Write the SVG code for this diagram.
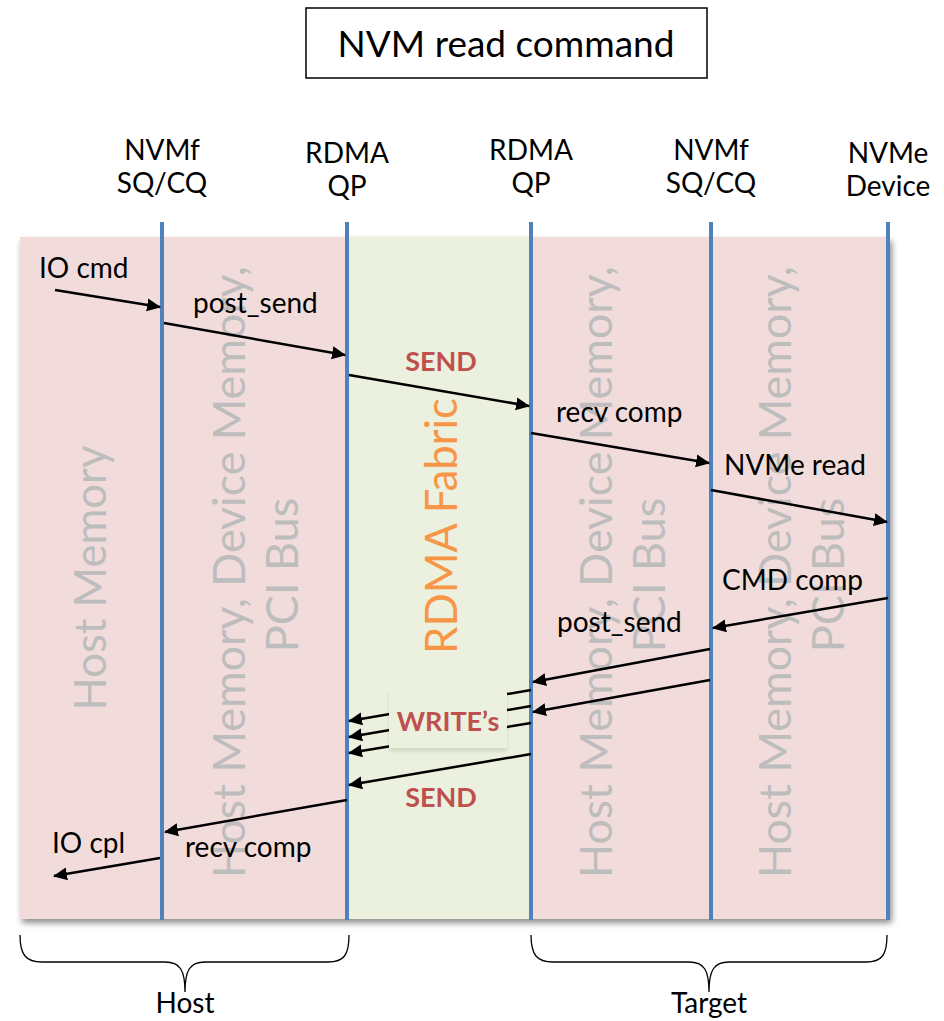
<svg xmlns="http://www.w3.org/2000/svg" width="944" height="1021" viewBox="0 0 944 1021">
  <style>
    .lbl { font-family: Lato, "Liberation Sans", sans-serif; font-size: 28px; fill: #000; }
    .hdr { font-family: Lato, "Liberation Sans", sans-serif; font-size: 28px; fill: #000; text-anchor: middle; }
    .red { font-family: Lato, "Liberation Sans", sans-serif; font-size: 27px; font-weight: bold; fill: #c0504d; text-anchor: middle; }
    .zone { font-family: Lato, "Liberation Sans", sans-serif; font-size: 45px; fill: #bdbdbd; text-anchor: middle; }
    .fabric { font-family: Lato, "Liberation Sans", sans-serif; font-size: 45px; fill: #f79646; text-anchor: middle; }
    .life { stroke: #4f81bd; stroke-width: 4; }
    .msg { stroke: #000; stroke-width: 2.5; fill: none; marker-end: url(#head); }
    .brace { stroke: #000; stroke-width: 1.3; fill: none; }
  </style>
  <defs>
    <marker id="head" viewBox="0 0 14 14" refX="13" refY="7" markerWidth="14" markerHeight="14" markerUnits="userSpaceOnUse" orient="auto">
      <path d="M0,0.5 L14,7 L0,13.5 Z" fill="#000"/>
    </marker>
    <filter id="shadow" x="-5%" y="-5%" width="110%" height="110%">
      <feGaussianBlur in="SourceAlpha" stdDeviation="3"/>
      <feOffset dx="2" dy="4"/>
      <feComponentTransfer><feFuncA type="linear" slope="0.45"/></feComponentTransfer>
      <feMerge><feMergeNode/><feMergeNode in="SourceGraphic"/></feMerge>
    </filter>
    <filter id="soft" x="-10%" y="-10%" width="120%" height="130%">
      <feGaussianBlur in="SourceAlpha" stdDeviation="2"/>
      <feOffset dx="0" dy="3"/>
      <feComponentTransfer><feFuncA type="linear" slope="0.12"/></feComponentTransfer>
      <feMerge><feMergeNode/><feMergeNode in="SourceGraphic"/></feMerge>
    </filter>
  </defs>

  <!-- title -->
  <g id="title">
    <rect x="306" y="8" width="401" height="70" fill="#fff" stroke="#000" stroke-width="1.5"/>
    <text x="506" y="57" font-family="Lato, 'Liberation Sans', sans-serif" font-size="37" text-anchor="middle">NVM read command</text>
  </g>

  <!-- background bands -->
  <g id="bands" filter="url(#shadow)">
    <rect x="20" y="237" width="327" height="682" fill="#f2dcdb"/>
    <rect x="347" y="237" width="184" height="682" fill="#ebf1de"/>
    <rect x="531" y="237" width="359" height="682" fill="#f2dcdb"/>
  </g>

  <!-- zone labels -->
  <g id="zones">
    <text class="zone" transform="translate(106,578) rotate(-90)" textLength="265" lengthAdjust="spacingAndGlyphs">Host Memory</text>
    <text class="zone" transform="translate(245,572) rotate(-90)" textLength="612" lengthAdjust="spacingAndGlyphs">Host Memory, Device Memory,</text>
    <text class="zone" transform="translate(298,575) rotate(-90)">PCI Bus</text>
    <text class="fabric" transform="translate(457,526) rotate(-90)" textLength="256" lengthAdjust="spacingAndGlyphs">RDMA Fabric</text>
    <text class="zone" transform="translate(612,572) rotate(-90)" textLength="612" lengthAdjust="spacingAndGlyphs">Host Memory, Device Memory,</text>
    <text class="zone" transform="translate(665,575) rotate(-90)">PCI Bus</text>
    <text class="zone" transform="translate(791,572) rotate(-90)" textLength="612" lengthAdjust="spacingAndGlyphs">Host Memory, Device Memory,</text>
    <text class="zone" transform="translate(844,575) rotate(-90)">PCI Bus</text>
  </g>

  <!-- participants -->
  <g id="host-sqcq">
    <text class="hdr" x="162" y="160">NVMf</text>
    <text class="hdr" x="162" y="193">SQ/CQ</text>
    <line class="life" x1="162" y1="222" x2="162" y2="920"/>
  </g>
  <g id="host-qp">
    <text class="hdr" x="347" y="163">RDMA</text>
    <text class="hdr" x="347" y="196">QP</text>
    <line class="life" x1="347" y1="222" x2="347" y2="920"/>
  </g>
  <g id="target-qp">
    <text class="hdr" x="531" y="160">RDMA</text>
    <text class="hdr" x="531" y="193">QP</text>
    <line class="life" x1="531" y1="222" x2="531" y2="920"/>
  </g>
  <g id="target-sqcq">
    <text class="hdr" x="711" y="160">NVMf</text>
    <text class="hdr" x="711" y="193">SQ/CQ</text>
    <line class="life" x1="711" y1="222" x2="711" y2="920"/>
  </g>
  <g id="nvme-device">
    <text class="hdr" x="888" y="163">NVMe</text>
    <text class="hdr" x="888" y="196">Device</text>
    <line class="life" x1="888" y1="222" x2="888" y2="920"/>
  </g>

  <!-- messages -->
  <g id="connectors">
    <line class="msg" x1="55" y1="290" x2="160" y2="307"/>
    <line class="msg" x1="164" y1="323" x2="345" y2="355"/>
    <line class="msg" x1="349" y1="375" x2="529" y2="406"/>
    <line class="msg" x1="531" y1="433" x2="709" y2="463"/>
    <line class="msg" x1="711" y1="490" x2="887" y2="522"/>
    <line class="msg" x1="888" y1="598" x2="713" y2="628"/>
    <line class="msg" x1="710" y1="649" x2="533" y2="682"/>
    <line class="msg" x1="710" y1="680" x2="533" y2="712"/>
    <line class="msg" x1="531" y1="690" x2="349" y2="721"/>
    <line class="msg" x1="531" y1="706" x2="349" y2="737"/>
    <line class="msg" x1="531" y1="723" x2="349" y2="753"/>
    <line class="msg" x1="531" y1="754" x2="349" y2="785"/>
    <line class="msg" x1="347" y1="800" x2="165" y2="832"/>
    <line class="msg" x1="160" y1="858" x2="54" y2="876"/>
  </g>

  <!-- message labels -->
  <g id="labels">
    <text class="lbl" x="39" y="278">IO cmd</text>
    <text class="lbl" x="193" y="313">post_send</text>
    <text class="red" x="441" y="371">SEND</text>
    <text class="lbl" x="556" y="422">recv comp</text>
    <text class="lbl" x="724" y="475">NVMe read</text>
    <text class="lbl" x="722" y="590">CMD comp</text>
    <text class="lbl" x="557" y="632">post_send</text>
    <rect x="389" y="690" width="118" height="58" fill="#ebf1de" filter="url(#soft)"/>
    <text class="red" x="448" y="731">WRITE’s</text>
    <text class="red" x="441" y="807">SEND</text>
    <text class="lbl" x="185" y="857">recv comp</text>
    <text class="lbl" x="52" y="853">IO cpl</text>
  </g>

  <!-- side braces -->
  <g id="host-brace">
    <path class="brace" d="M20,935 C20,955 26,962 42,962 L165,962 C180,962 185,970 185,992 C185,970 190,962 205,962 L328,962 C344,962 349,955 349,935"/>
    <text x="185" y="1013" font-family="Lato, 'Liberation Sans', sans-serif" font-size="28" text-anchor="middle">Host</text>
  </g>
  <g id="target-brace">
    <path class="brace" d="M531,935 C531,955 537,962 553,962 L689,962 C704,962 709,970 709,992 C709,970 714,962 729,962 L866,962 C882,962 887,955 887,935"/>
    <text x="709" y="1013" font-family="Lato, 'Liberation Sans', sans-serif" font-size="28" text-anchor="middle">Target</text>
  </g>
</svg>
